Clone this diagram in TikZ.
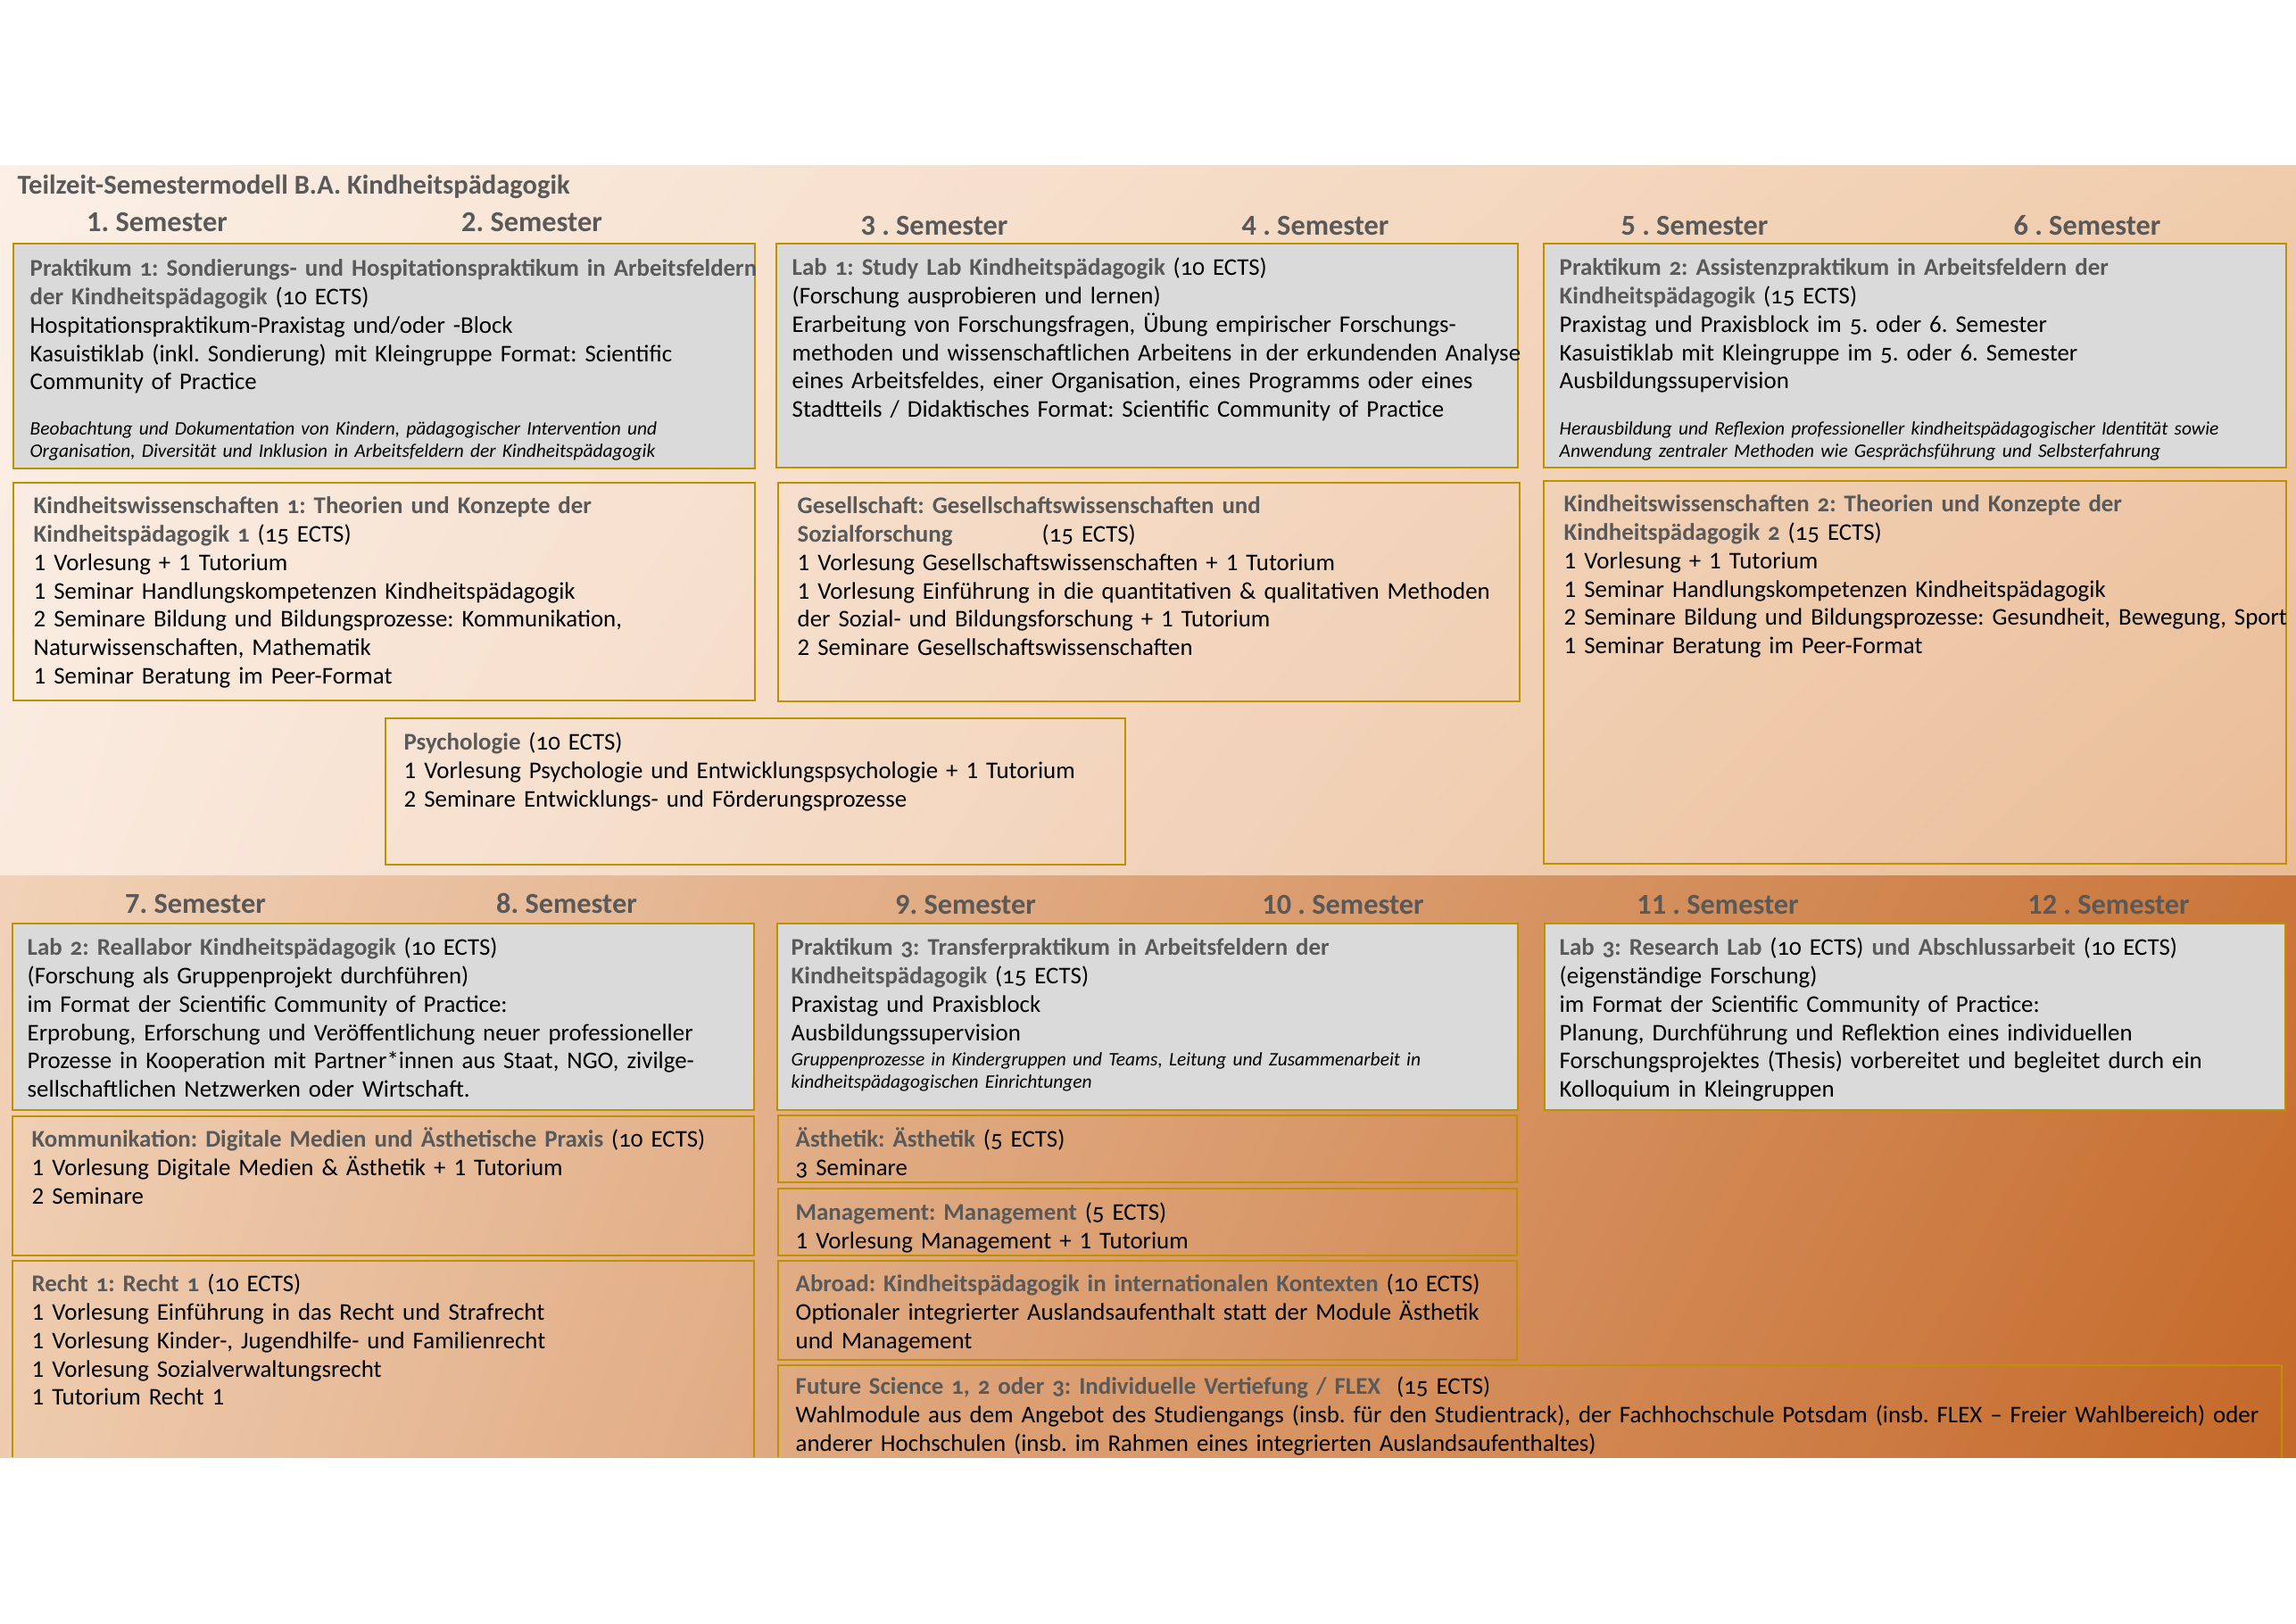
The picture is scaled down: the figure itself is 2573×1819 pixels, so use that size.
\documentclass[tikz,border=0pt]{standalone}
\usepackage{fontspec}
\setmainfont{Carlito}
\newfontfamily\osf[Numbers=OldStyle]{Carlito}
\usetikzlibrary{shadings}
\frenchspacing
\definecolor{bord}{RGB}{191,144,0}
\definecolor{boxgray}{RGB}{218,218,218}
\definecolor{hdgray}{RGB}{89,89,89}
\definecolor{uUL}{RGB}{251,239,230}
\definecolor{uUR}{RGB}{240,204,172}
\definecolor{uLL}{RGB}{250,234,222}
\definecolor{uLR}{RGB}{234,188,150}
\definecolor{lUL}{RGB}{241,210,184}
\definecolor{lUR}{RGB}{202,118,58}
\definecolor{lLL}{RGB}{238,203,174}
\definecolor{lLR}{RGB}{196,104,40}
\newcommand\hd[1]{{\osf\bfseries\color{hdgray}#1}}
\newcommand\ects[1]{{\osf #1}}
\tikzset{
  box/.style={draw=bord, line width=0.71pt},
  gbox/.style={box, fill=boxgray},
  txt/.style={anchor=north west, inner sep=0pt, text width=175mm, align=left,
    font=\fontsize{7.65pt}{9.02pt}\selectfont},
  itx/.style={anchor=north west, inner sep=0pt, text width=175mm, align=left,
    font=\fontsize{6.1pt}{6.91pt}\selectfont\itshape},
  sem/.style={anchor=base, inner sep=0pt, font=\fontsize{9.2pt}{10pt}\selectfont\bfseries, text=hdgray},
}
\begin{document}
\begin{tikzpicture}[x=0.1mm, y=-0.1mm]
\useasboundingbox (0,0) rectangle (2573,1819);
\fill[white] (0,0) rectangle (2573,1819);
% background bands
\shade[upper left=uUL, upper right=uUR, lower left=uLL, lower right=uLR] (0,185) rectangle (2573,981);
\shade[upper left=lUL, upper right=lUR, lower left=lLL, lower right=lLR] (0,981) rectangle (2573,1633);

% title and semester labels
\node[anchor=base west, inner sep=0pt, font=\fontsize{8.7pt}{9pt}\selectfont\bfseries, text=hdgray] (title) at (19,217) {Teilzeit-Semestermodell B.A. Kindheitspädagogik};
\node[sem] (s1) at (176,259) {1. Semester};
\node[sem] (s2) at (596,259) {2. Semester};
\node[sem] (s3) at (1047,263) {3 . Semester};
\node[sem] (s4) at (1474,263) {4 . Semester};
\node[sem] (s5) at (1899,263) {5 . Semester};
\node[sem] (s6) at (2339,263) {6 . Semester};
\node[sem] (s7) at (219,1023) {7. Semester};
\node[sem] (s8) at (635,1023) {8. Semester};
\node[sem] (s9) at (1082,1024) {9. Semester};
\node[sem] (s10) at (1505,1024) {10 . Semester};
\node[sem] (s11) at (1925,1024) {11 . Semester};
\node[sem] (s12) at (2363,1024) {12 . Semester};

% upper band boxes
\draw[gbox] (15,273) rectangle (846,525);
\draw[gbox] (870,273) rectangle (1701,524);
\draw[gbox] (1730,273) rectangle (2562,524);
\draw[box] (15,541) rectangle (846,785);
\draw[box] (872,541) rectangle (1703,786);
\draw[box] (1730,539) rectangle (2562,968);
\draw[box] (432,805) rectangle (1261,969);

% lower band boxes
\draw[gbox] (14,1035) rectangle (845,1244);
\draw[gbox] (871,1035) rectangle (1701,1244);
\draw[gbox] (1731,1035) rectangle (2561,1244);
\draw[box] (14,1251) rectangle (845,1407);
\draw[box] (14,1633) |- (845,1413) -- (845,1633);
\draw[box] (872,1250) rectangle (1700,1325);
\draw[box] (872,1332) rectangle (1700,1407);
\draw[box] (872,1413) rectangle (1700,1524);
\draw[box] (872,1633) |- (2557,1530) -- (2557,1633);

% texts upper band
\node[txt] (p1t) at (33,287) {\strut\hd{Praktikum 1: Sondierungs- und Hospitationspraktikum in Arbeitsfeldern}\\
\hd{der Kindheitspädagogik} \ects{(10 ECTS)}\\
Hospitationspraktikum-Praxistag und/oder -Block\\
Kasuistiklab (inkl. Sondierung) mit Kleingruppe Format: Scientific\\
Community of Practice};
\node[itx] (p1i) at (33,470) {\strut Beobachtung und Dokumentation von Kindern, pädagogischer Intervention und\\
Organisation, Diversität und Inklusion in Arbeitsfeldern der Kindheitspädagogik};

\node[txt] (l1t) at (887,286) {\strut\hd{Lab 1: Study Lab Kindheitspädagogik} \ects{(10 ECTS)}\\
(Forschung ausprobieren und lernen)\\
Erarbeitung von Forschungsfragen, Übung empirischer Forschungs-\\
methoden und wissenschaftlichen Arbeitens in der erkundenden Analyse\\
eines Arbeitsfeldes, einer Organisation, eines Programms oder eines\\
Stadtteils / Didaktisches Format: Scientific Community of Practice};

\node[txt] (p2t) at (1747,286) {\strut\hd{Praktikum 2: Assistenzpraktikum in Arbeitsfeldern der}\\
\hd{Kindheitspädagogik} \ects{(15 ECTS)}\\
Praxistag und Praxisblock im \ects{5.} oder 6. Semester\\
Kasuistiklab mit Kleingruppe im \ects{5.} oder 6. Semester\\
Ausbildungssupervision};
\node[itx] (p2i) at (1747,470) {\strut Herausbildung und Reflexion professioneller kindheitspädagogischer Identität sowie\\
Anwendung zentraler Methoden wie Gesprächsführung und Selbsterfahrung};

\node[txt] (kw1t) at (37,553) {\strut\hd{Kindheitswissenschaften 1: Theorien und Konzepte der}\\
\hd{Kindheitspädagogik 1} \ects{(15 ECTS)}\\
1 Vorlesung + 1 Tutorium\\
1 Seminar Handlungskompetenzen Kindheitspädagogik\\
2 Seminare Bildung und Bildungsprozesse: Kommunikation,\\
Naturwissenschaften, Mathematik\\
1 Seminar Beratung im Peer-Format};

\node[txt] (gest) at (893,553) {\strut\hd{Gesellschaft: Gesellschaftswissenschaften und}\\
\makebox[27.4mm][l]{\hd{Sozialforschung}}\ects{(15 ECTS)}\\
1 Vorlesung Gesellschaftswissenschaften + 1 Tutorium\\
1 Vorlesung Einführung in die quantitativen \& qualitativen Methoden\\
der Sozial- und Bildungsforschung + 1 Tutorium\\
2 Seminare Gesellschaftswissenschaften};

\node[txt] (kw2t) at (1752,551) {\strut\hd{Kindheitswissenschaften 2: Theorien und Konzepte der}\\
\hd{Kindheitspädagogik 2} \ects{(15 ECTS)}\\
1 Vorlesung + 1 Tutorium\\
1 Seminar Handlungskompetenzen Kindheitspädagogik\\
2 Seminare Bildung und Bildungsprozesse: Gesundheit, Bewegung, Sport\\
1 Seminar Beratung im Peer-Format};

\node[txt] (psyt) at (452,818) {\strut\hd{Psychologie} \ects{(10 ECTS)}\\
1 Vorlesung Psychologie und Entwicklungspsychologie + 1 Tutorium\\
2 Seminare Entwicklungs- und Förderungsprozesse};

% texts lower band
\node[txt] (l2t) at (30,1048) {\strut\hd{Lab 2: Reallabor Kindheitspädagogik} \ects{(10 ECTS)}\\
(Forschung als Gruppenprojekt durchführen)\\
im Format der Scientific Community of Practice:\\
Erprobung, Erforschung und Veröffentlichung neuer professioneller\\
Prozesse in Kooperation mit Partner*innen aus Staat, NGO, zivilge-\\
sellschaftlichen Netzwerken oder Wirtschaft.};

\node[txt] (p3t) at (886,1048) {\strut\hd{Praktikum 3: Transferpraktikum in Arbeitsfeldern der}\\
\hd{Kindheitspädagogik} \ects{(15 ECTS)}\\
Praxistag und Praxisblock\\
Ausbildungssupervision};
\node[itx] (p3i) at (886,1177) {\strut Gruppenprozesse in Kindergruppen und Teams, Leitung und Zusammenarbeit in\\
kindheitspädagogischen Einrichtungen};

\node[txt] (l3t) at (1747,1048) {\strut\hd{Lab 3: Research Lab} \ects{(10 ECTS)} \hd{und Abschlussarbeit} \ects{(10 ECTS)}\\
(eigenständige Forschung)\\
im Format der Scientific Community of Practice:\\
Planung, Durchführung und Reflektion eines individuellen\\
Forschungsprojektes (Thesis) vorbereitet und begleitet durch ein\\
Kolloquium in Kleingruppen};

\node[txt] (komt) at (35,1263) {\strut\hd{Kommunikation: Digitale Medien und Ästhetische Praxis} \ects{(10 ECTS)}\\
1 Vorlesung Digitale Medien \& Ästhetik + 1 Tutorium\\
2 Seminare};

\node[txt] (reet) at (35,1425) {\strut\hd{Recht 1: Recht 1} \ects{(10 ECTS)}\\
1 Vorlesung Einführung in das Recht und Strafrecht\\
1 Vorlesung Kinder-, Jugendhilfe- und Familienrecht\\
1 Vorlesung Sozialverwaltungsrecht\\
1 Tutorium Recht 1};

\node[txt] (aest) at (891,1263) {\strut\hd{Ästhetik: Ästhetik} \ects{(5 ECTS)}\\
\ects{3} Seminare};

\node[txt] (mant) at (891,1345) {\strut\hd{Management: Management} \ects{(5 ECTS)}\\
1 Vorlesung Management + 1 Tutorium};

\node[txt] (abrt) at (891,1425) {\strut\hd{Abroad: Kindheitspädagogik in internationalen Kontexten} \ects{(10 ECTS)}\\
Optionaler integrierter Auslandsaufenthalt statt der Module Ästhetik\\
und Management};

\node[txt] (futt) at (891,1540) {\strut\hd{Future Science 1, 2 oder 3: Individuelle Vertiefung / FLEX}\ \ \ects{(15 ECTS)}\\
Wahlmodule aus dem Angebot des Studiengangs (insb. für den Studientrack), der Fachhochschule Potsdam (insb. FLEX – Freier Wahlbereich) oder\\
anderer Hochschulen (insb. im Rahmen eines integrierten Auslandsaufenthaltes)};
\end{tikzpicture}
\end{document}
